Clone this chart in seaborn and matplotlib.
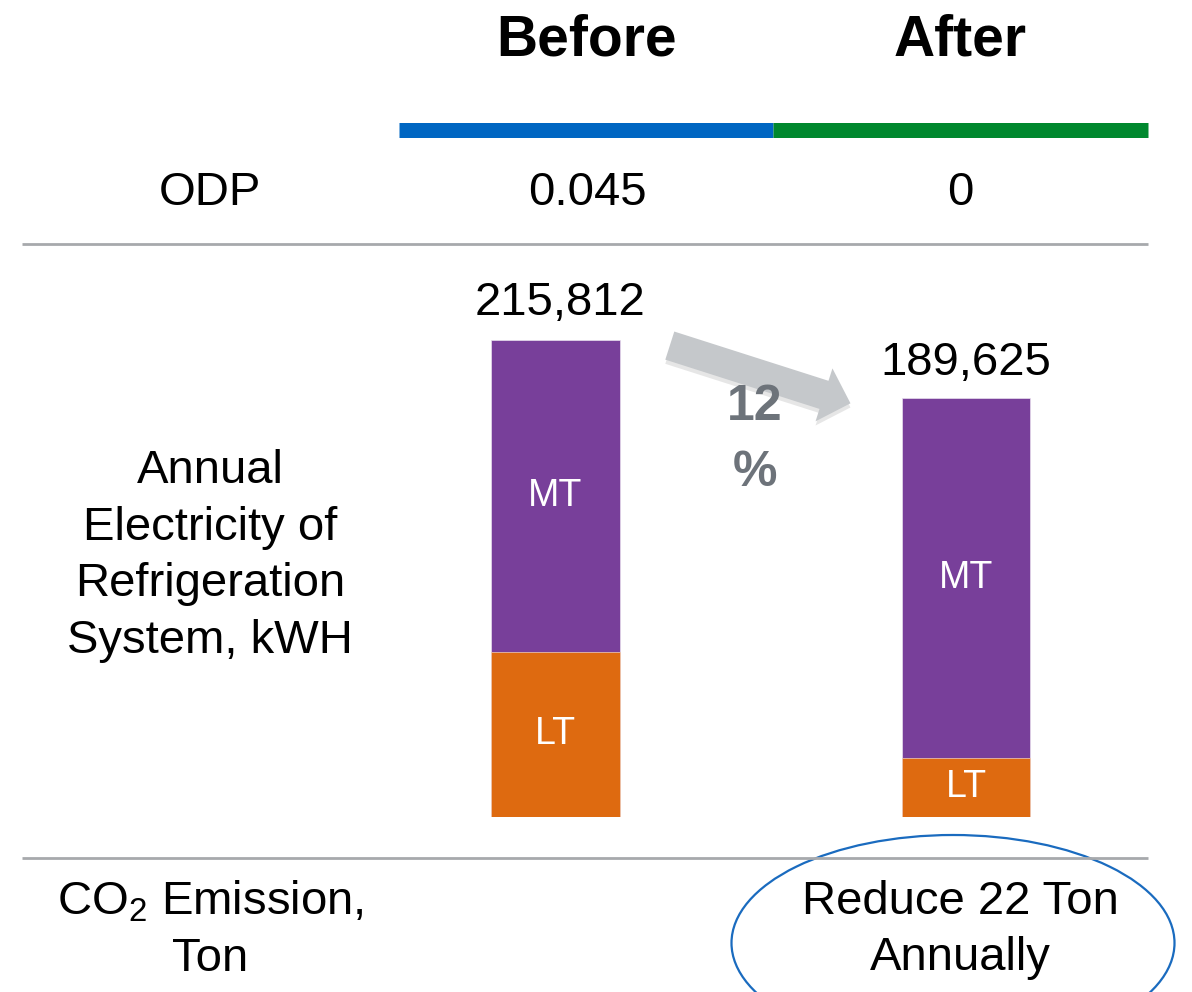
import matplotlib
matplotlib.use("Agg")
import matplotlib.pyplot as plt
import matplotlib.patches as ptc
import matplotlib.patheffects as pe
from matplotlib.lines import Line2D
import seaborn as sns
import pandas as pd

# data
periods = ["Before", "After"]
lt_kwh = [74700, 26700]
mt_kwh = [141112, 162925]
total_kwh = [215812, 189625]
odp_values = ["0.045", "0"]
change_label = "12\n%"
co2_note = "Reduce 22 Ton\nAnnually"

PURPLE = "#783F9A"
ORANGE = "#DE6A10"
BLUE = "#0066C2"
GREEN = "#00882E"
GRAY_LINE = "#A7A9AC"
ARROW_GRAY = "#C5C8CB"
TEXT_GRAY = "#6D737A"

W, H = 1192, 992

sns.set_style("white")
plt.rcParams["font.family"] = ["Liberation Sans", "DejaVu Sans"]
plt.rcParams["mathtext.default"] = "regular"
plt.rcParams["text.color"] = "black"

fig = plt.figure(figsize=(W / 100, H / 100), dpi=100)


def px(x, y):
    return x / W, 1 - y / H


def ftext(x, y, s, **kw):
    kw.setdefault("ha", "center")
    kw.setdefault("va", "center")
    kw.setdefault("fontsize", 34)
    kw.setdefault("color", "black")
    fig.text(*px(x, y), s, **kw)


def hline(x0, x1, y, color, lw):
    (a, b), (c, _) = px(x0, y), px(x1, y)
    fig.add_artist(Line2D([a, c], [b, b], color=color, lw=lw,
                          solid_capstyle="butt", transform=fig.transFigure))


# header
ftext(587, 40, periods[0], fontsize=41, fontweight="bold")
ftext(960, 40, periods[1], fontsize=41, fontweight="bold")
hline(399, 773, 129.5, BLUE, 10.8)
hline(773, 1148, 129.5, GREEN, 10.8)

# ODP row
ftext(210, 193, "ODP")
ftext(587, 193, odp_values[0])
ftext(960, 193, odp_values[1])
hline(22, 1148, 244, GRAY_LINE, 2)

# bar row
ftext(210, 556, "Annual\nElectricity of\nRefrigeration\nSystem, kWH", linespacing=1.38)

ax_left, ax_right, ax_top, ax_bot = 350.25, 1171.25, 250, 817
ax = fig.add_axes([ax_left / W, 1 - ax_bot / H, (ax_right - ax_left) / W, (ax_bot - ax_top) / H])
df = pd.DataFrame({"period": periods, "LT": lt_kwh, "MT": mt_kwh, "total": total_kwh})
bar_w = 0.314
sns.barplot(data=df, x="period", y="total", color=PURPLE, saturation=1, width=bar_w,
            edgecolor="#E8E0EE", linewidth=0.5, ax=ax)
sns.barplot(data=df, x="period", y="LT", color=ORANGE, saturation=1, width=bar_w,
            edgecolor="#F3D2BC", linewidth=0.5, ax=ax)
ax.set_xlim(-0.5, 1.5)
ax.set_ylim(0, 256526)
ax.axis("off")

for i, row in df.iterrows():
    ax.text(i, row["LT"] + row["MT"] / 2, "MT", color="white", fontsize=27, ha="center", va="center")
    ax.text(i, row["LT"] / 2, "LT", color="white", fontsize=27, ha="center", va="center")
    off = 37 if i == 0 else 35
    ax.annotate(f"{row['total']:,}", (i + (0.012 if i == 0 else 0), row["total"]),
                xytext=(0, off), textcoords="offset pixels",
                ha="center", va="center", fontsize=34, color="black")

arrow = ptc.FancyArrowPatch((0.272, total_kwh[0] * 0.99), (0.725, total_kwh[1] * 0.985),
                            arrowstyle="simple,head_length=0.8,head_width=1.6,tail_width=0.85",
                            mutation_scale=25, color=ARROW_GRAY, lw=0, clip_on=False,
                            path_effects=[pe.SimplePatchShadow(offset=(0, -3), alpha=0.12,
                                                               shadow_rgbFace="#333333"),
                                          pe.Normal()])
ax.add_patch(arrow)
ftext(755, 440, change_label, fontsize=36, fontweight="bold", color=TEXT_GRAY, linespacing=1.55)

# CO2 row
hline(22, 1148, 858, GRAY_LINE, 2)
ftext(210, 930, "CO$_2$ Emission,\nTon", linespacing=1.38)
ftext(960, 930, co2_note, linespacing=1.38)
cx, cy = px(953, 943)
fig.add_artist(ptc.Ellipse((cx, cy), 443 / W, 216 / H, transform=fig.transFigure,
                           fill=False, edgecolor="#1A6BBF", lw=1.6))

fig.savefig("out.png", dpi=100)
